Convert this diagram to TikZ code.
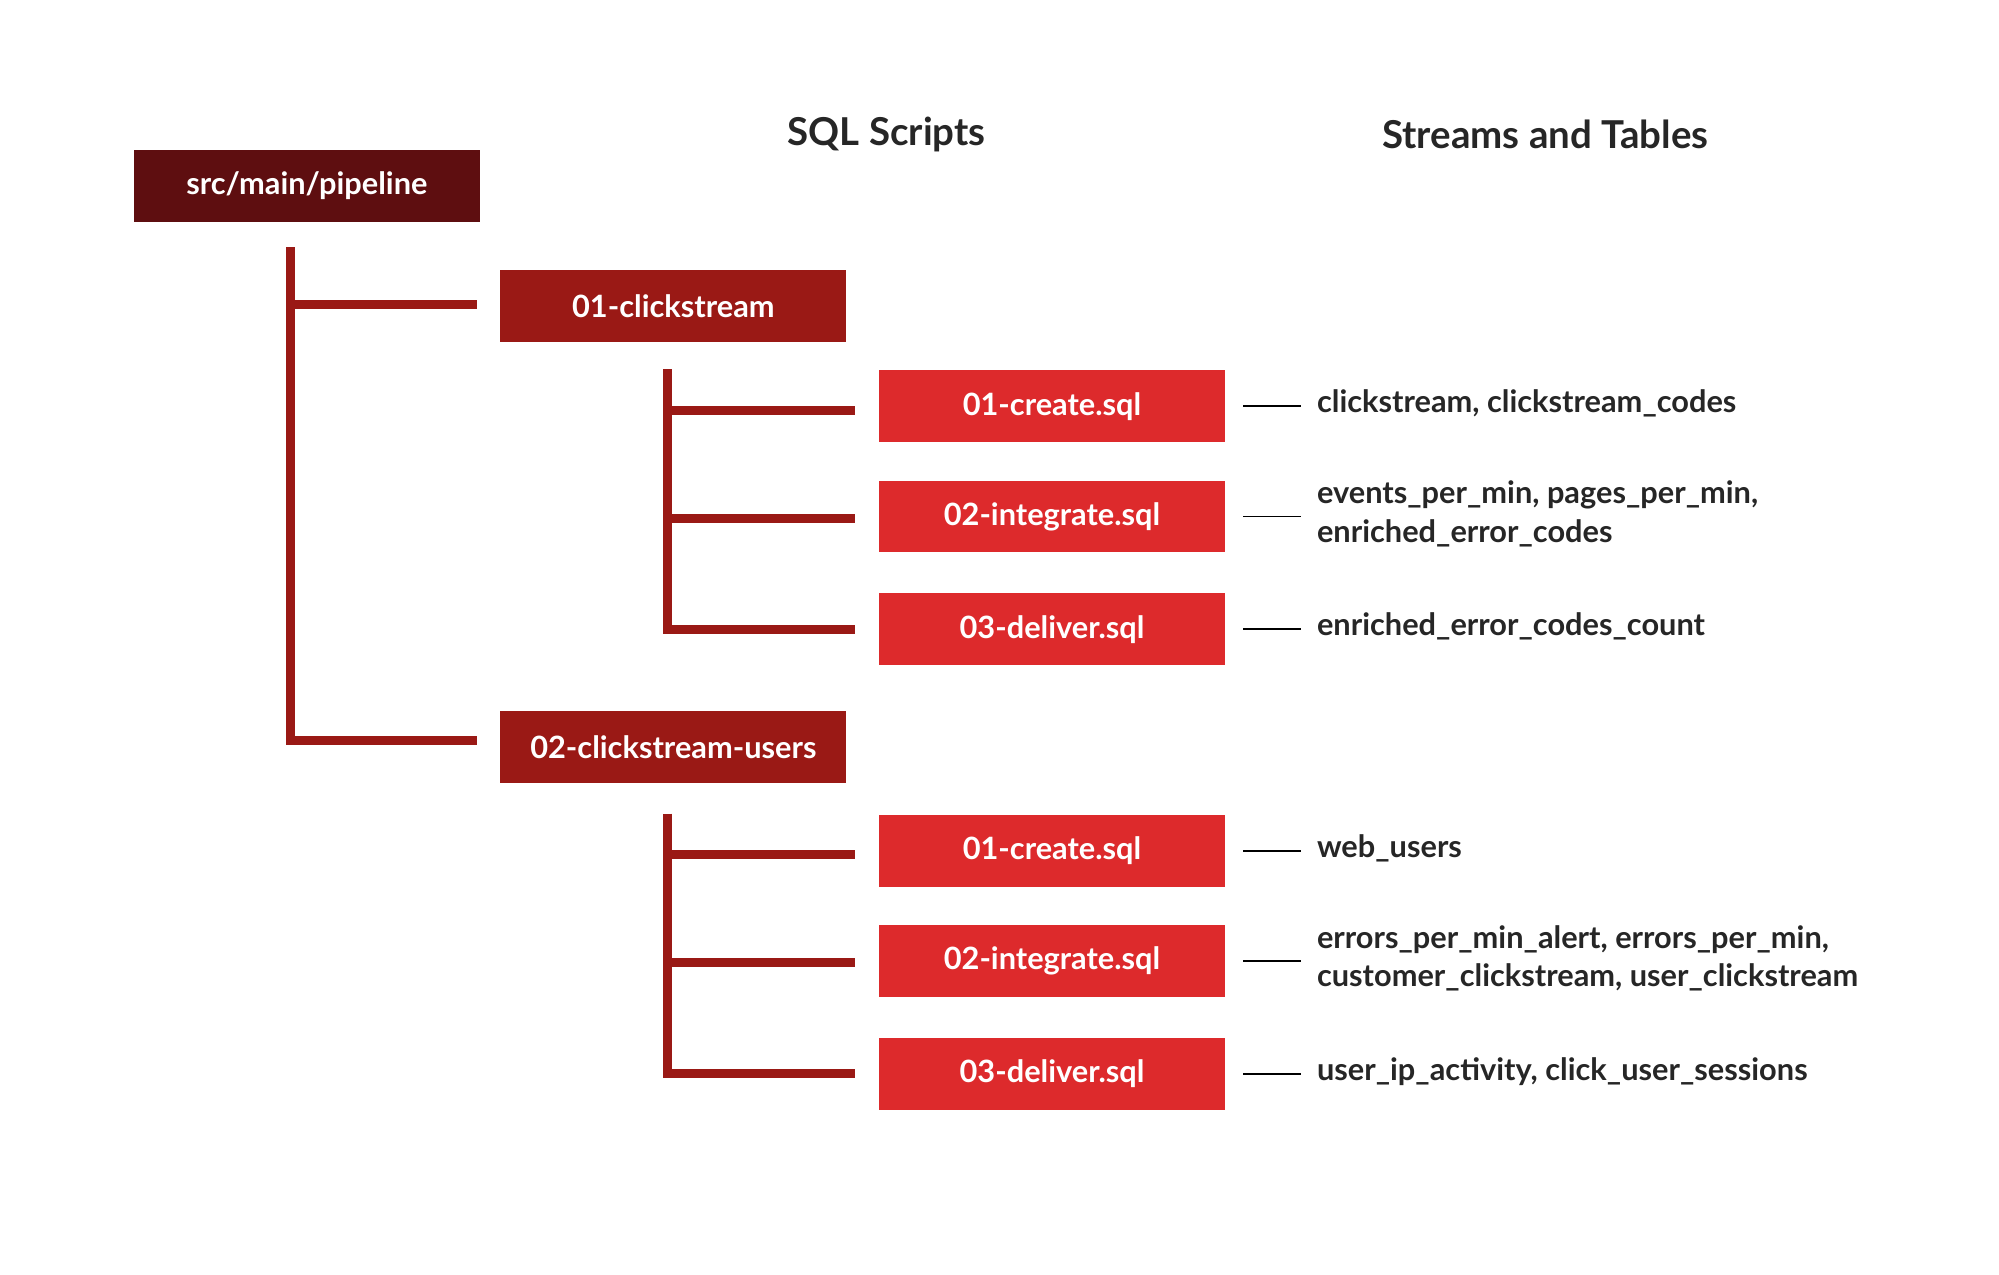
\documentclass[tikz,border=0pt]{standalone}
\usepackage{fontspec}
\setmainfont{Lato}
\begin{document}
\begin{tikzpicture}[x=0.5pt,y=-0.5pt,
  box/.style={minimum width=135pt,minimum height=28pt,inner sep=0pt,text=white,font=\bfseries\fontsize{12}{14}\selectfont},
  rootbox/.style={box,fill=rootc},
  dirbox/.style={box,fill=dirc},
  filebox/.style={box,fill=filec},
  tree/.style={draw=dirc,line width=3.5pt},
  lbl/.style={anchor=west,align=left,inner sep=0pt,font=\bfseries\fontsize{12}{15}\selectfont,text=black!85},
  hdr/.style={font=\bfseries\fontsize{15}{18}\selectfont,text=black!85},
  tick/.style={draw=black,line width=0.7pt}]
\definecolor{rootc}{HTML}{5E0E10}
\definecolor{dirc}{HTML}{9A1915}
\definecolor{filec}{HTML}{DD2A2C}
\useasboundingbox (0,0) rectangle (1560,995);
\node[hdr] (h1) at (692,105) {SQL Scripts};
\node[hdr] (h2) at (1206,105) {Streams and Tables};
\node[rootbox] (root) at (239.5,145) {src/main/pipeline};
\node[dirbox] (d1) at (525.5,239) {01-clickstream};
\node[dirbox] (d2) at (525.5,583) {02-clickstream-users};
\foreach \n/\y/\t in {f1/317/01-create.sql,f2/403/02-integrate.sql,f3/491/03-deliver.sql,
  g1/664/01-create.sql,g2/750/02-integrate.sql,g3/838/03-deliver.sql}
  \node[filebox] (\n) at (821,\y) {\t};
\foreach \n/\t in {f1/{clickstream, clickstream\_codes},
  f2/{events\_per\_min, pages\_per\_min,\\enriched\_error\_codes},
  f3/{enriched\_error\_codes\_count},
  g1/{web\_users},
  g2/{errors\_per\_min\_alert, errors\_per\_min,\\customer\_clickstream, user\_clickstream},
  g3/{user\_ip\_activity, click\_user\_sessions}}{
  \coordinate (\n a) at ([xshift=7pt]\n.east);
  \coordinate (\n b) at ([xshift=29.5pt]\n.east);
  \draw[tick] (\n a) -- (\n b);
  \node[lbl] (\n l) at ([xshift=35.5pt,yshift=1pt]\n.east) {\t};
}
% root tree
\coordinate (r0) at (227,193);
\coordinate (r1) at (227,238);
\coordinate (r2) at (227,578);
\draw[tree] (r0) -- (r2) -- ([xshift=-9pt]d2.west |- r2);
\draw[tree] (r1) -- ([xshift=-9pt]d1.west |- r1);
% group trees
\foreach \g/\top/\ya/\yb/\yc in {f/288/320/405/491, g/635/667/751/838}{
  \coordinate (\g t) at (521,\top);
  \coordinate (\g 1c) at (521,\ya);
  \coordinate (\g 2c) at (521,\yb);
  \coordinate (\g 3c) at (521,\yc);
  \draw[tree] (\g t) -- (\g 3c) -- (667,\yc);
  \draw[tree] (\g 1c) -- (667,\ya);
  \draw[tree] (\g 2c) -- (667,\yb);
}
\end{tikzpicture}
\end{document}
